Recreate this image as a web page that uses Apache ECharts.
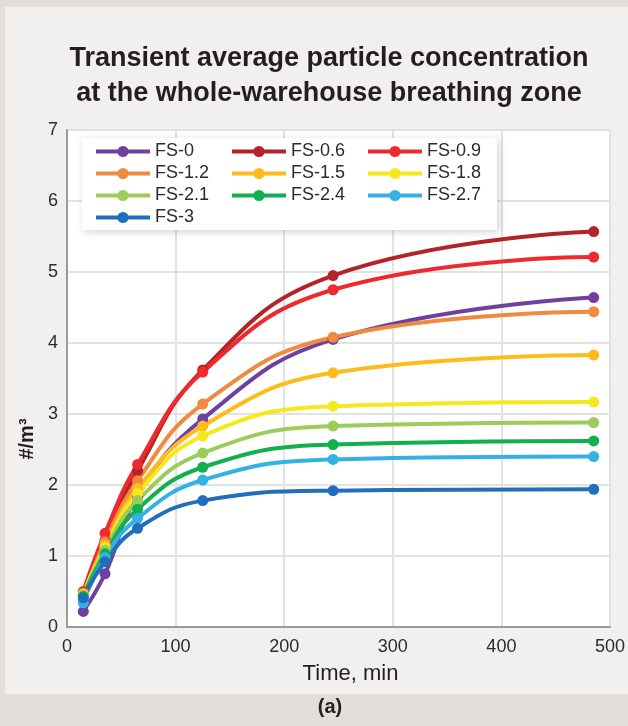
<!DOCTYPE html>
<html style="height: 100%">
<head>
  <meta charset="utf-8">
  <title>Transient average particle concentration</title>
</head>
<body style="height: 100%; margin: 0">
<div id="container" style="width: 628px; height: 726px"></div>
<script type="text/javascript" src="https://cdn.jsdelivr.net/npm/echarts@6/dist/echarts.min.js"></script>
<script type="text/javascript">
  let dom = document.getElementById("container");
  let myChart = echarts.init(dom);

  // time points, min
  let times = [15, 35, 65, 125, 245, 485]
  let xTicks = [0, 100, 200, 300, 400, 500]
  let yTicks = [0, 1, 2, 3, 4, 5, 6, 7]

  let names = ['FS-0', 'FS-0.6', 'FS-0.9', 'FS-1.2', 'FS-1.5', 'FS-1.8', 'FS-2.1', 'FS-2.4', 'FS-2.7', 'FS-3']
  let colors = ['#7040a0', '#b5232a', '#ee2a2f', '#ef8a3e', '#fdbc1c', '#f5e81c', '#9acd5a', '#10b04f', '#33b1e6', '#1f6fba']

  // average concentration, #/m3
  let fs0 = [0.22, 0.75, 1.85, 2.93, 4.05, 4.64]
  let fs06 = [0.45, 1.22, 2.2, 3.62, 4.95, 5.57]
  let fs09 = [0.5, 1.32, 2.29, 3.59, 4.75, 5.21]
  let fs12 = [0.45, 1.2, 2.06, 3.14, 4.08, 4.44]
  let fs15 = [0.45, 1.15, 1.95, 2.83, 3.58, 3.83]
  let fs18 = [0.47, 1.12, 1.88, 2.69, 3.11, 3.17]
  let fs21 = [0.45, 1.08, 1.78, 2.45, 2.83, 2.88]
  let fs24 = [0.43, 1.03, 1.66, 2.25, 2.57, 2.62]
  let fs27 = [0.34, 0.98, 1.53, 2.07, 2.36, 2.4]
  let fs3 = [0.41, 0.92, 1.39, 1.78, 1.92, 1.94]
  let values = [fs0, fs06, fs09, fs12, fs15, fs18, fs21, fs24, fs27, fs3]

  let font = '"Liberation Sans", Arial, sans-serif'

  let series = names.map((name, i) => ({
    name: name,
    type: 'line',
    smooth: 0.45,
    symbol: 'circle',
    symbolSize: 11,
    color: colors[i],
    lineStyle: { width: 4 },
    data: times.map((t, j) => [t, values[i][j]])
  }))

  let option = {
    backgroundColor: '#e2dfdb',
    animation: false,
    graphic: [
      // light panel
      { type: 'rect', z: -10, shape: { x: 5, y: 7, width: 623, height: 687 }, style: { fill: '#f1f0ee' } },
      // legend box
      {
        type: 'rect', z: 5,
        shape: { x: 82, y: 138, width: 415, height: 92 },
        style: { fill: '#ffffff', shadowBlur: 8, shadowColor: 'rgba(0,0,0,0.18)', shadowOffsetX: 2, shadowOffsetY: 2 }
      },
      {
        type: 'text', z: 5, x: 329, y: 41,
        style: {
          text: 'Transient average particle concentration\nat the whole-warehouse breathing zone',
          align: 'center', fill: '#231f20', font: 'bold 27px ' + font, lineHeight: 35
        }
      },
      {
        type: 'text', z: 5, x: 17, y: 439, rotation: Math.PI / 2,
        style: { text: '#/m³', align: 'center', verticalAlign: 'top', fill: '#231f20', font: 'bold 20px ' + font }
      },
      {
        type: 'text', z: 5, x: 330, y: 697,
        style: { text: '(a)', align: 'center', fill: '#231f20', font: 'bold 20px ' + font }
      }
    ],
    legend: {
      z: 10,
      left: 94,
      top: 142,
      width: 420,
      padding: 0,
      itemGap: 3,
      itemWidth: 54,
      itemHeight: 14,
      data: names,
      lineStyle: { width: 4 },
      itemStyle: { borderWidth: 0 },
      textStyle: { fontFamily: font, fontSize: 18, color: '#2b2b2b', width: 72, lineHeight: 19 }
    },
    grid: {
      left: 67, right: 13, top: 130, bottom: 99,
      show: true, backgroundColor: '#ffffff', borderWidth: 0
    },
    xAxis: {
      type: 'value',
      min: xTicks[0],
      max: xTicks[xTicks.length - 1],
      interval: 100,
      name: 'Time, min',
      nameLocation: 'middle',
      nameGap: 36,
      nameTextStyle: { fontFamily: font, fontSize: 22, color: '#231f20', padding: [0, 0, 0, 24] },
      axisLine: { show: true, lineStyle: { color: '#9a9a9a', width: 2 } },
      axisTick: { show: false },
      axisLabel: { fontFamily: font, fontSize: 18, color: '#2b2b2b', margin: 11 },
      splitLine: { show: true, lineStyle: { color: '#e2e2e2', width: 2 } }
    },
    yAxis: {
      type: 'value',
      min: yTicks[0],
      max: yTicks[yTicks.length - 1],
      interval: 1,
      axisLine: { show: true, lineStyle: { color: '#9a9a9a', width: 2 } },
      axisTick: { show: false },
      axisLabel: { fontFamily: font, fontSize: 18, color: '#2b2b2b', margin: 9 },
      splitLine: { show: true, lineStyle: { color: '#e2e2e2', width: 2 } }
    },
    series: series
  };

  myChart.setOption(option, true);
</script>
</body>
</html>
